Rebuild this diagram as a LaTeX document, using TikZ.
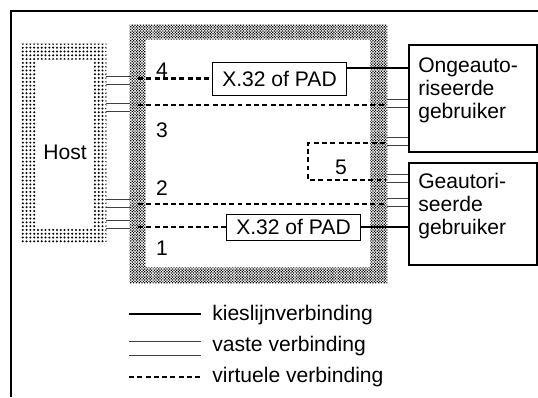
\documentclass[tikz,border=0pt]{standalone}
\usepackage{fontspec}
\setmainfont{Liberation Sans}
\usetikzlibrary{patterns.meta}

\begin{document}
\begin{tikzpicture}[
    x=0.025cm, y=-0.025cm,
    every node/.style={font=\fontsize{15}{16.3}\selectfont},
    frame/.style={draw=none, inner sep=0pt},
    padbox/.style={draw, line width=0.7pt, minimum width=3.325cm, inner sep=0pt},
    userbox/.style={draw, line width=0.8pt, minimum width=3.2cm, inner sep=0pt},
    usertext/.style={anchor=west, align=left, inner sep=0pt},
    nr/.style={inner sep=0pt},
    vast/.style={line width=0.45pt, black!75},
    kies/.style={line width=1.4pt},
    virt/.style={line width=1.5pt, dash pattern=on 3.5pt off 2.4pt}
  ]
    \useasboundingbox (0,0) rectangle (538,397);
    \draw[line width=0.8pt] (538,11) -- (11,11) -- (11,397);

    % host and network
    \node[frame, minimum width=2.1cm, minimum height=4.975cm] (host) at (64,143.5) {};
    \fill[pattern={Dots[distance=2.7pt, radius=0.8pt]}, even odd rule]
      (host.north west) rectangle (host.south east)
      ([shift={(15,16)}]host.north west) rectangle ([shift={(-14,-15)}]host.south east);
    \node at (65,152) {Host};

    \node[frame, minimum width=6.425cm, minimum height=6.45cm] (hub) at (258.5,154) {};
    \fill[pattern={Dots[angle=45, distance=1.4pt, radius=0.62pt]}, even odd rule]
      (hub.north west) rectangle (hub.south east)
      ([shift={(16,15)}]hub.north west) rectangle ([shift={(-17,-16)}]hub.south east);

    \node[padbox, minimum height=0.825cm] (padA) at (279.5,78.5) {X.32 of PAD};
    \node[padbox, minimum height=0.65cm] (padB) at (293.5,227) {X.32 of PAD};

    \node[userbox, minimum height=2.675cm] (userA) at (473,98.5) {};
    \node[usertext] (userAtext) at (418,90) {Ongeauto-\\riseerde\\gebruiker};
    \node[userbox, minimum height=2.55cm] (userB) at (473,214) {};
    \node[usertext] (userBtext) at (418,206) {Geautori-\\seerde\\gebruiker};

    \node[nr] (n4) at (162,70) {4};
    \node[nr] (n3) at (162,130) {3};
    \node[nr] (n2) at (162,188) {2};
    \node[nr] (n1) at (162,248) {1};
    \node[nr] (n5) at (341,167) {5};

    \coordinate (inL) at (138,0);
    \coordinate (inR) at (385,0);

    % fixed lines host side
    \draw[vast] (host.east |- 0,76) -- (hub.west |- 0,76);
    \draw[vast] (host.east |- 0,84) -- (hub.west |- 0,84);
    \draw[vast] (host.east |- 0,103) -- (hub.west |- 0,103);
    \draw[vast] (host.east |- 0,111) -- (hub.west |- 0,111);
    \draw[vast] (host.east |- 0,199) -- (hub.west |- 0,199);
    \draw[vast] (host.east |- 0,207) -- (hub.west |- 0,207);
    \draw[vast] (host.east |- 0,220) -- (hub.west |- 0,220);
    \draw[vast] (host.east |- 0,228) -- (hub.west |- 0,228);

    % fixed lines user side
    \draw[vast] (hub.east |- 0,99) -- (userA.west |- 0,99);
    \draw[vast] (hub.east |- 0,107) -- (userA.west |- 0,107);
    \draw[vast] (hub.east |- 0,137) -- (userA.west |- 0,137);
    \draw[vast] (hub.east |- 0,145) -- (userA.west |- 0,145);
    \draw[vast] (hub.east |- 0,174) -- (userB.west |- 0,174);
    \draw[vast] (hub.east |- 0,182) -- (userB.west |- 0,182);
    \draw[vast] (hub.east |- 0,198) -- (userB.west |- 0,198);
    \draw[vast] (hub.east |- 0,206) -- (userB.west |- 0,206);

    % virtual connections
    \draw[virt] (inL |- padA.west) -- (padA.west);
    \draw[virt] (inL |- 0,105) -- (inR |- 0,105);
    \draw[virt] (inR |- 0,143) -- (308,143) -- (308,180) -- (inR |- 0,180);
    \draw[virt] (inL |- 0,204) -- (inR |- 0,204);
    \draw[virt] (inL |- padB.west) -- (padB.west);

    % dial-up lines
    \draw[kies] (padA.east |- 0,68) -- (userA.west |- 0,68);
    \draw[kies] (padB.east) -- (padB.east -| userB.west);

    % legend
    \coordinate (legK1) at (129,314);
    \coordinate (legK2) at (201,314);
    \draw[kies] (legK1) -- (legK2);
    \node[usertext] (legKtext) at (212,315) {kieslijnverbinding};
    \coordinate (legV1) at (129,341);
    \coordinate (legV2) at (201,341);
    \draw[vast] (legV1) -- (legV2);
    \draw[vast] ([yshift=-10]legV1) -- ([yshift=-10]legV2);
    \node[usertext] (legVtext) at (212,346) {vaste verbinding};
    \coordinate (legD1) at (129,377);
    \coordinate (legD2) at (201,377);
    \draw[virt] (legD1) -- (legD2);
    \node[usertext] (legDtext) at (212,377) {virtuele verbinding};
\end{tikzpicture}
\end{document}
